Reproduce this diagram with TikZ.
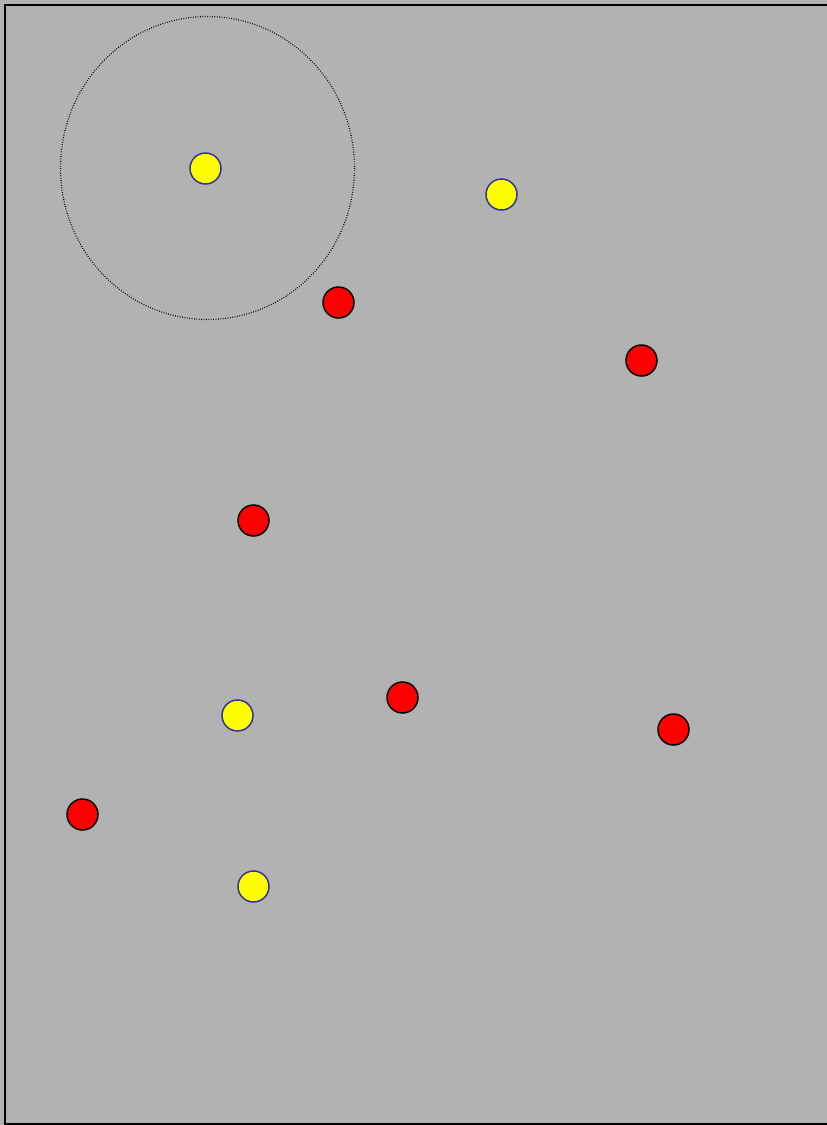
\documentclass[tikz,border=0pt]{standalone}
\begin{document}
\begin{tikzpicture}[
 x=1pt,y=-1pt,
 frame/.style={line width=1.6pt},
 rangering/.style={line width=1.2pt,dash pattern=on .8pt off 1.6pt},
 yellowdot/.style={circle,fill={rgb,255:red,255;green,255;blue,0},draw={rgb,255:red,51;green,51;blue,153},line width=1.5pt,minimum size=31pt,inner sep=0pt},
 reddot/.style={circle,fill={rgb,255:red,255;green,0;blue,0},draw=black,line width=1.5pt,minimum size=31pt,inner sep=0pt}]
 % canvas and frame
 \fill[fill={rgb,255:red,178;green,178;blue,178}] (0,0) rectangle (827,1125);
 \useasboundingbox (0,0) rectangle (827,1125);
 \clip (0,0) rectangle (827,1125);
 \draw[frame] (5,5) rectangle (840,1124);
 % sensing range around the first yellow point
 \coordinate (rc) at (207.5,168);
 \draw[rangering] (rc) ellipse [x radius=147,y radius=151.5];
 % yellow points
 \foreach \n/\px/\py in {y1/205.5/168.5,y2/501.5/194.5,y3/237.5/715.5,y4/253.5/886.5}
  \node[yellowdot] (\n) at (\px,\py){};
 % red points
 \foreach \n/\px/\py in {r1/338.5/302.5,r2/641.5/360.5,r3/253.5/520.5,r4/402.5/697.5,r5/673.5/729.5,r6/82.5/814.5}
  \node[reddot] (\n) at (\px,\py){};
\end{tikzpicture}
\end{document}
